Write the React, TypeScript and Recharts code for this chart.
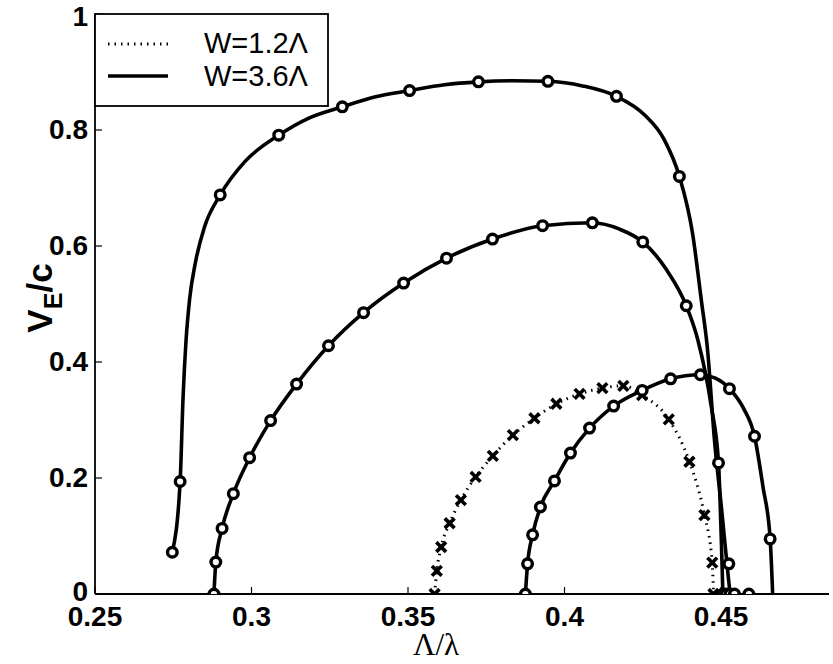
import React from 'react';
import { ComposedChart, Line, Scatter, XAxis, YAxis } from 'recharts';

// ---- axis ticks ----
const xTicks = [0.25, 0.3, 0.35, 0.4, 0.45];
const xTickLabels = ['0.25', '0.3', '0.35', '0.4', '0.45'];
const yTicks = [0, 0.2, 0.4, 0.6, 0.8, 1];
const yTickLabels = ['0', '0.2', '0.4', '0.6', '0.8', '1'];
const xDomain = [0.25, 0.4845];
const yDomain = [0, 1];

// ---- legend ----
const legendLabels = ['W=1.2\u039B', 'W=3.6\u039B'];

// ---- curve A (W=3.6Λ, outer) traced line ----
const aLineX = [0.2747, 0.2772, 0.2781, 0.2791, 0.2802, 0.2821, 0.285, 0.29, 0.2978, 0.3087, 0.3185, 0.329, 0.3393, 0.3505, 0.3617, 0.3725, 0.3837, 0.3947, 0.4058, 0.4166, 0.4256, 0.4319, 0.4367, 0.4409, 0.4437, 0.4457, 0.4479, 0.4501, 0.4522, 0.4529];
const aLineY = [0.072, 0.194, 0.334, 0.438, 0.507, 0.572, 0.633, 0.688, 0.745, 0.791, 0.821, 0.84, 0.857, 0.868, 0.878, 0.883, 0.885, 0.884, 0.876, 0.858, 0.826, 0.783, 0.72, 0.622, 0.507, 0.421, 0.266, 0.151, 0.036, 0];
const aMarkX = [0.2747, 0.2772, 0.29, 0.3087, 0.329, 0.3505, 0.3725, 0.3947, 0.4166, 0.4367, 0.4525];
const aMarkY = [0.072, 0.194, 0.688, 0.791, 0.84, 0.868, 0.883, 0.884, 0.858, 0.72, 0.052];

// ---- curve B (W=3.6Λ, middle) ----
const bLineX = [0.288, 0.2886, 0.2906, 0.2942, 0.2994, 0.3061, 0.3144, 0.3246, 0.3358, 0.3486, 0.3623, 0.377, 0.393, 0.4089, 0.4176, 0.425, 0.4326, 0.4389, 0.4426, 0.4469, 0.4492, 0.4501, 0.4506];
const bLineY = [0, 0.055, 0.113, 0.173, 0.235, 0.299, 0.362, 0.428, 0.485, 0.536, 0.579, 0.612, 0.635, 0.64, 0.629, 0.607, 0.559, 0.497, 0.438, 0.323, 0.226, 0.093, 0];
const bMarkX = [0.288, 0.2886, 0.2906, 0.2942, 0.2994, 0.3061, 0.3144, 0.3246, 0.3358, 0.3486, 0.3623, 0.377, 0.393, 0.4089, 0.425, 0.4389, 0.4492];
const bMarkY = [0, 0.055, 0.113, 0.173, 0.235, 0.299, 0.362, 0.428, 0.485, 0.536, 0.579, 0.612, 0.635, 0.64, 0.607, 0.497, 0.226];

// ---- curve C (W=3.6Λ, lower right) ----
const cLineX = [0.3875, 0.3882, 0.3898, 0.3923, 0.3968, 0.4019, 0.408, 0.4157, 0.4248, 0.4339, 0.4434, 0.4482, 0.4527, 0.4572, 0.4607, 0.4634, 0.4657, 0.4665];
const cLineY = [0, 0.052, 0.102, 0.15, 0.195, 0.243, 0.286, 0.324, 0.351, 0.371, 0.378, 0.372, 0.354, 0.32, 0.272, 0.185, 0.095, 0];
const cMarkX = [0.3875, 0.3882, 0.3898, 0.3923, 0.3968, 0.4019, 0.408, 0.4157, 0.4248, 0.4339, 0.4434, 0.4527, 0.4607, 0.4657];
const cMarkY = [0, 0.052, 0.102, 0.15, 0.195, 0.243, 0.286, 0.324, 0.351, 0.371, 0.378, 0.354, 0.272, 0.095];

// ---- extra cut-off markers sitting on the axis ----
const zeroMarkX = [0.4506, 0.4517, 0.4529, 0.4543, 0.4589];
const zeroMarkY = [0, 0, 0, 0, 0];

// ---- curve D (W=1.2Λ, dotted, x markers) ----
const dX = [0.3585, 0.3592, 0.3606, 0.3633, 0.3669, 0.3716, 0.3771, 0.3835, 0.3904, 0.3974, 0.4048, 0.4121, 0.4188, 0.4248, 0.4333, 0.4399, 0.4447, 0.4472, 0.4476];
const dY = [0, 0.04, 0.081, 0.122, 0.162, 0.202, 0.238, 0.274, 0.303, 0.328, 0.345, 0.355, 0.359, 0.343, 0.301, 0.228, 0.136, 0.054, 0];

const zip = (xs: number[], ys: number[]) => xs.map((x, i) => ({ x, y: ys[i] }));

const aLine = zip(aLineX, aLineY);
const aMarks = zip(aMarkX, aMarkY);
const bLine = zip(bLineX, bLineY);
const bMarks = zip(bMarkX, bMarkY);
const cLine = zip(cLineX, cLineY);
const cMarks = zip(cMarkX, cMarkY);
const zeroMarks = zip(zeroMarkX, zeroMarkY);
const dData = zip(dX, dY);

const FONT = '"Liberation Sans", Arial, Helvetica, sans-serif';
const TICK_LEN = 7;
const LW = 3.6;

const Circle = (props: any) => {
  const { cx, cy } = props;
  if (cx == null || cy == null) return null;
  return <circle cx={cx} cy={cy} r={4.8} fill="#fff" stroke="#000" strokeWidth={3.4} />;
};

const Cross = (props: any) => {
  const { cx, cy } = props;
  if (cx == null || cy == null) return null;
  const s = 3.6;
  return (
    <g stroke="#000" strokeWidth={3.6} strokeLinecap="square">
      <line x1={cx - s} y1={cy - s} x2={cx + s} y2={cy + s} />
      <line x1={cx - s} y1={cy + s} x2={cx + s} y2={cy - s} />
    </g>
  );
};

const BottomTick = (props: any) => {
  const { x, y, payload } = props;
  const idx = xTicks.indexOf(payload.value);
  return (
    <g>
      <line x1={x} y1={y} x2={x} y2={y - TICK_LEN} stroke="#000" strokeWidth={1.2} />
      <text x={x} y={y + 32} textAnchor="middle" fontFamily={FONT} fontWeight="bold" fontSize={28} fill="#000">
        {idx >= 0 ? xTickLabels[idx] : ''}
      </text>
    </g>
  );
};

const TopTick = (props: any) => {
  const { x, y } = props;
  return <line x1={x} y1={y} x2={x} y2={y + TICK_LEN} stroke="#000" strokeWidth={1.2} />;
};

const LeftTick = (props: any) => {
  const { x, y, payload } = props;
  const idx = yTicks.indexOf(payload.value);
  const v = payload.value;
  const dy = v >= 1 ? 12 : v <= 0 ? 7 : 9;
  return (
    <g>
      <line x1={x} y1={y} x2={x + TICK_LEN} y2={y} stroke="#000" strokeWidth={1.2} />
      <text x={x - 7} y={y + dy} textAnchor="end" fontFamily={FONT} fontWeight="bold" fontSize={28} fill="#000">
        {idx >= 0 ? yTickLabels[idx] : ''}
      </text>
    </g>
  );
};

const RightTick = (props: any) => {
  const { x, y } = props;
  return <line x1={x} y1={y} x2={x - TICK_LEN} y2={y} stroke="#000" strokeWidth={1.2} />;
};

const axisLine = { stroke: '#000', strokeWidth: 1.8 };

export default function App() {
  return (
    <div style={{ position: 'absolute', left: 0, top: 0, width: 833, height: 664, background: '#fff' }}>
      <ComposedChart width={833} height={664} margin={{ top: 14, right: 4, bottom: 0, left: 0 }}>
        <XAxis
          xAxisId={0}
          dataKey="x"
          type="number"
          domain={xDomain}
          ticks={xTicks}
          interval={0}
          allowDataOverflow
          height={70}
          tickSize={0}
          tickMargin={0}
          tickLine={false}
          axisLine={axisLine}
          tick={(p: any) => <BottomTick {...p} />}
        />
        <XAxis
          xAxisId="top"
          orientation="top"
          dataKey="x"
          type="number"
          domain={xDomain}
          ticks={xTicks}
          interval={0}
          allowDataOverflow
          height={0}
          tickSize={0}
          tickMargin={0}
          tickLine={false}
          axisLine={axisLine}
          tick={(p: any) => <TopTick {...p} />}
        />
        <YAxis
          yAxisId={0}
          dataKey="y"
          type="number"
          domain={yDomain}
          ticks={yTicks}
          interval={0}
          allowDataOverflow
          width={95}
          tickSize={0}
          tickMargin={0}
          tickLine={false}
          axisLine={axisLine}
          tick={(p: any) => <LeftTick {...p} />}
        />
        <YAxis
          yAxisId="right"
          orientation="right"
          dataKey="y"
          type="number"
          domain={yDomain}
          ticks={yTicks}
          interval={0}
          allowDataOverflow
          width={0}
          tickSize={0}
          tickMargin={0}
          tickLine={false}
          axisLine={axisLine}
          tick={(p: any) => <RightTick {...p} />}
        />
        <Line data={aLine} dataKey="y" type="monotone" stroke="#000" strokeWidth={LW} dot={false} isAnimationActive={false} />
        <Line data={bLine} dataKey="y" type="monotone" stroke="#000" strokeWidth={LW} dot={false} isAnimationActive={false} />
        <Line data={cLine} dataKey="y" type="monotone" stroke="#000" strokeWidth={LW} dot={false} isAnimationActive={false} />
        <Line data={dData} dataKey="y" type="monotone" stroke="#000" strokeWidth={3} strokeDasharray="1.5 5" dot={false} isAnimationActive={false} />
        <Scatter data={dData} dataKey="y" shape={(p: any) => <Cross {...p} />} isAnimationActive={false} />
        <Scatter data={aMarks} dataKey="y" shape={(p: any) => <Circle {...p} />} isAnimationActive={false} />
        <Scatter data={bMarks} dataKey="y" shape={(p: any) => <Circle {...p} />} isAnimationActive={false} />
        <Scatter data={cMarks} dataKey="y" shape={(p: any) => <Circle {...p} />} isAnimationActive={false} />
        <Scatter data={zeroMarks} dataKey="y" shape={(p: any) => <Circle {...p} />} isAnimationActive={false} />
      </ComposedChart>
      <svg width={833} height={664} style={{ position: 'absolute', left: 0, top: 0, pointerEvents: 'none' }}>
        {/* legend */}
        <rect x={95} y={14} width={233} height={92} fill="#fff" stroke="#000" strokeWidth={1.8} />
        <line x1={108} y1={44} x2={168} y2={44} stroke="#000" strokeWidth={3} strokeDasharray="1.5 5" />
        <line x1={108} y1={76} x2={168} y2={76} stroke="#000" strokeWidth={LW} />
        <text x={204} y={53} fontFamily={FONT} fontSize={29} fill="#000">{legendLabels[0]}</text>
        <text x={204} y={86} fontFamily={FONT} fontSize={29} fill="#000">{legendLabels[1]}</text>
        {/* axis titles */}
        <text transform="translate(52,298) rotate(-90)" textAnchor="middle" fontFamily={FONT} fontWeight="bold" fontSize={35} fill="#000">
          V<tspan fontSize={25} dy={10}>E</tspan><tspan dy={-10}>/c</tspan>
        </text>
        <text x={436} y={655} textAnchor="middle" fontFamily='"Liberation Serif", "Times New Roman", serif' fontSize={31} fill="#000">
          {'\u039B/\u03BB'}
        </text>
      </svg>
    </div>
  );
}
